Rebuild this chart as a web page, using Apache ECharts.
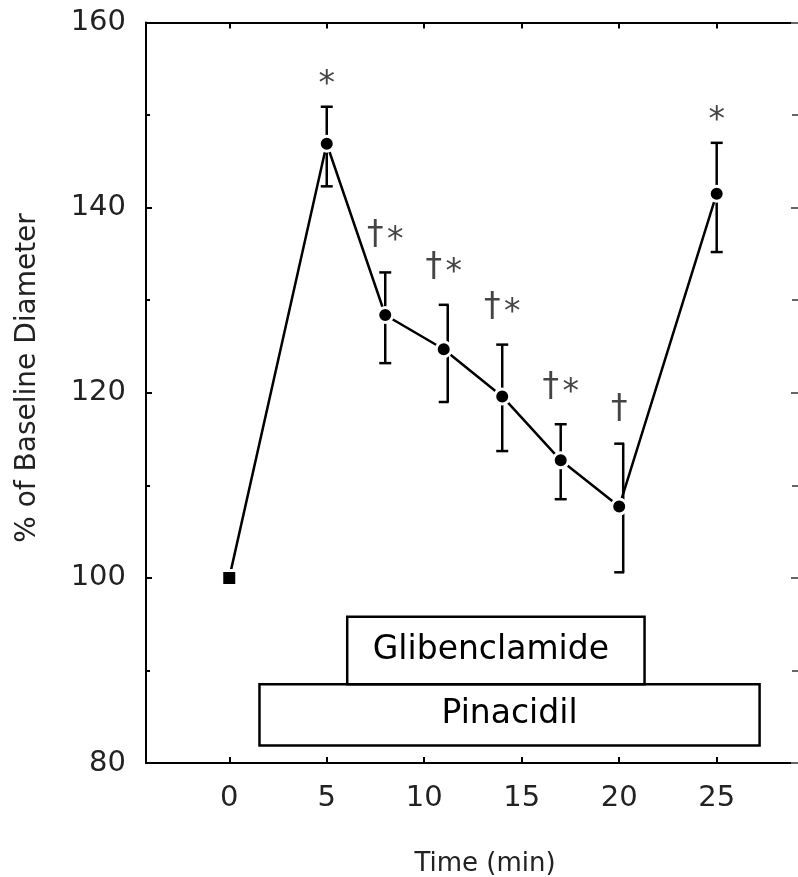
<!DOCTYPE html>
<html><head><meta charset="utf-8">
<script src="https://cdn.jsdelivr.net/npm/echarts@6/dist/echarts.min.js"></script>
<style>html,body{margin:0;padding:0;background:#fff}#c{width:798px;height:877px}</style>
</head><body><div id="c"></div>
<script>
// ---- data ----
const times = [0, 5, 8, 11, 14, 17, 20, 25];
const meanDiameter = [100, 146.9, 128.4, 124.7, 119.6, 112.7, 107.7, 141.5];
const errUpper = [null, 150.9, 133.0, 129.5, 125.2, 116.6, 114.5, 147.0];
const errLower = [null, 142.3, 123.2, 119.0, 113.7, 108.5, 100.6, 135.2];
const capSide = ['', 'both', 'both', 'left', 'both', 'both', 'left', 'both'];
const significance = ['', '*', '†*', '†*', '†*', '†*', '†', '*'];
const xTicks = [0, 5, 10, 15, 20, 25];
const yTicks = [80, 100, 120, 140, 160];
const drugNames = ['Pinacidil', 'Glibenclamide'];
const drugStart = [1.55, 6.05];
const drugEnd = [27.2, 21.3];

const FONT = '"DejaVu Sans", "Liberation Sans", sans-serif';
const chart = echarts.init(document.getElementById('c'), null, {renderer: 'canvas'});

const axisLineStyle = {color: '#000', width: 2};

const errData = times.map((t, i) => [t, errUpper[i], errLower[i], meanDiameter[i]]).filter(d => d[1] !== null);
const errIdx = times.map((t, i) => i).filter(i => errUpper[i] !== null);

const option = {
  animation: false,
  backgroundColor: '#fff',
  grid: {left: 146, top: 22.5, width: 654, height: 740.5, containLabel: false},
  xAxis: [{
    type: 'value', position: 'bottom', min: -4.27, max: 29.17,
    axisLine: {show: true, onZero: false, lineStyle: axisLineStyle},
    axisTick: {show: true, inside: true, length: 6, customValues: xTicks, lineStyle: {color: '#000', width: 2}},
    axisLabel: {show: true, customValues: xTicks, margin: 21, fontFamily: FONT, fontSize: 29, color: '#222'},
    splitLine: {show: false}
  }, {
    type: 'value', position: 'top', min: -4.27, max: 29.17,
    axisLine: {show: true, onZero: false, lineStyle: axisLineStyle},
    axisTick: {show: true, inside: true, length: 6, customValues: xTicks, lineStyle: {color: '#000', width: 2}},
    axisLabel: {show: false},
    splitLine: {show: false}
  }],
  yAxis: [{
    type: 'value', position: 'left', min: 80, max: 160, interval: 20,
    axisLine: {show: true, onZero: false, lineStyle: axisLineStyle},
    axisTick: {show: true, inside: true, length: 6, lineStyle: {color: '#000', width: 2}},
    minorTick: {show: true, splitNumber: 2, length: 4, lineStyle: {color: '#000', width: 2}},
    axisLabel: {show: true, margin: 20, fontFamily: FONT, fontSize: 29, color: '#222',
      customValues: yTicks},
    splitLine: {show: false}, minorSplitLine: {show: false}
  }, {
    type: 'value', position: 'right', min: 80, max: 160, interval: 20,
    axisLine: {show: false, onZero: false},
    axisTick: {show: true, inside: true, length: 7, lineStyle: {color: '#666', width: 2}},
    minorTick: {show: true, splitNumber: 2, length: 6, lineStyle: {color: '#666', width: 2}},
    axisLabel: {show: false},
    splitLine: {show: false}, minorSplitLine: {show: false}
  }],
  graphic: [{
    type: 'text',
    rotation: Math.PI / 2,
    x: 28, y: 378,
    style: {text: '% of Baseline Diameter', font: '28px ' + FONT, fill: '#222', align: 'center', verticalAlign: 'middle'}
  }, {
    type: 'text', x: 485, y: 864,
    style: {text: 'Time (min)', font: '26px ' + FONT, fill: '#222', align: 'center', verticalAlign: 'middle'}
  }],
  series: [{
    // drug application boxes
    type: 'custom', coordinateSystem: 'cartesian2d', z: 1,
    data: drugNames.map((n, i) => [drugStart[i], drugEnd[i], i]),
    renderItem: function (params, api) {
      const i = api.value(2);
      const band = i === 0 ? [81.9, 88.5] : [88.5, 95.8];
      const p0 = api.coord([api.value(0), band[1]]);
      const p1 = api.coord([api.value(1), band[0]]);
      return {type: 'group', children: [
        {type: 'rect', shape: {x: p0[0], y: p0[1], width: p1[0] - p0[0], height: p1[1] - p0[1]},
          style: {fill: '#fff', stroke: '#000', lineWidth: 2.5}},
        {type: 'text', style: {text: drugNames[i], x: (p0[0] + p1[0]) / 2 - (i === 1 ? 5 : 0), y: (p0[1] + p1[1]) / 2,
          align: 'center', verticalAlign: 'middle', font: '33px ' + FONT, fill: '#000'}}
      ]};
    }
  }, {
    // error bars and significance marks
    type: 'custom', coordinateSystem: 'cartesian2d', z: 2,
    data: errData,
    renderItem: function (params, api) {
      const idx = errIdx[params.dataIndex];
      const x = api.value(0);
      const pHi = api.coord([x, api.value(1)]);
      const pLo = api.coord([x, api.value(2)]);
      const pMid = api.coord([x, api.value(3)]);
      const side = capSide[idx];
      const bx = side === 'left' ? pMid[0] + 4 : pMid[0];
      const cap = side === 'left' ? [bx - 9, bx + 1] : [bx - 6, bx + 6];
      const ls = {stroke: '#000', lineWidth: 2.5};
      const ch = [
        {type: 'line', shape: {x1: bx, y1: pHi[1], x2: bx, y2: pLo[1]}, style: ls},
        {type: 'line', shape: {x1: cap[0], y1: pHi[1], x2: cap[1], y2: pHi[1]}, style: ls},
        {type: 'line', shape: {x1: cap[0], y1: pLo[1], x2: cap[1], y2: pLo[1]}, style: ls}
      ];
      const s = significance[idx];
      const hasD = s.indexOf('†') >= 0, hasS = s.indexOf('*') >= 0;
      const cx = pMid[0];
      const tf = '33px ' + FONT;
      if (hasD && hasS) {
        ch.push({type: 'text', style: {text: '†', x: cx - 10, y: pHi[1] - 37, align: 'center', verticalAlign: 'middle', font: tf, fill: '#444'}});
        ch.push({type: 'text', style: {text: '*', x: cx + 10, y: pHi[1] - 37 + 6, align: 'center', verticalAlign: 'middle', font: tf, fill: '#444'}});
      } else if (hasS) {
        ch.push({type: 'text', style: {text: '*', x: cx, y: pHi[1] - 27 + 6, align: 'center', verticalAlign: 'middle', font: tf, fill: '#444'}});
      } else if (hasD) {
        ch.push({type: 'text', style: {text: '†', x: cx, y: pHi[1] - 34, align: 'center', verticalAlign: 'middle', font: tf, fill: '#444'}});
      }
      return {type: 'group', children: ch};
    }
  }, {
    type: 'line', z: 3,
    data: times.map((t, i) => [t, meanDiameter[i]]),
    symbol: function (v, p) { return p.dataIndex === 0 ? 'rect' : 'circle'; },
    symbolSize: 15,
    lineStyle: {color: '#000', width: 2.5},
    itemStyle: {color: '#000', borderColor: '#fff', borderWidth: 3},
    emphasis: {disabled: true}
  }]
};
chart.setOption(option);
</script>
</body></html>
